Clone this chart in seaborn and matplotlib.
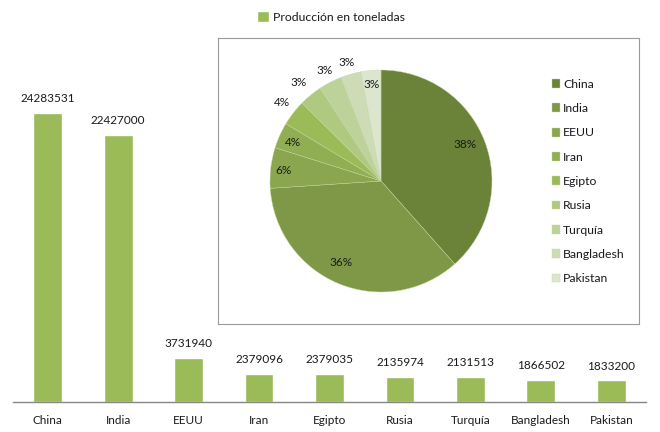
import matplotlib
matplotlib.use('Agg')
import matplotlib.pyplot as plt
import pandas as pd
import seaborn as sns

paises = ['China', 'India', 'EEUU', 'Iran', 'Egipto', 'Rusia', 'Turquía', 'Bangladesh', 'Pakistan']
toneladas = [24283531, 22427000, 3731940, 2379096, 2379035, 2135974, 2131513, 1866502, 1833200]
colores_pie = ['#6B8239', '#7E9848', '#8AA64F', '#90AE52', '#9BBB59',
               '#AFC981', '#BDD29B', '#CDDCB6', '#DCE6CE']
etiqueta_serie = 'Producción en toneladas'

sns.set_theme(style='white')
plt.rcParams['font.family'] = ['Lato', 'DejaVu Sans']
plt.rcParams['font.size'] = 8.5
plt.rcParams['text.color'] = '#1a1a1a'

W, H = 660, 432
df = pd.DataFrame({'pais': paises, 'toneladas': toneladas})

fig = plt.figure(figsize=(W / 100, H / 100), dpi=100, facecolor='white')

# barras
ax = fig.add_axes([12.5 / W, 30 / H, 634 / W, 372 / H])
sns.barplot(data=df, x='pais', y='toneladas', color='#9BBB59', saturation=1,
            width=0.41, ax=ax, label=etiqueta_serie)
ax.set_ylim(0, 24283531 * 372 / 289.5)
ax.set_xlim(-0.5, 8.5)
ax.set_xlabel('')
ax.set_ylabel('')
ax.set_yticks([])
ax.tick_params(axis='x', length=0, pad=9, labelsize=8.5, colors='#1a1a1a')
sns.despine(ax=ax, left=True)
ax.spines['bottom'].set_color('#868686')
ax.spines['bottom'].set_linewidth(1)
ax.bar_label(ax.containers[0], fmt='%d', padding=6, fontsize=8.5, color='#1a1a1a')

h, l = ax.get_legend_handles_labels()
ax.legend(h, l, loc='center', bbox_to_anchor=(331 / W, 1 - 17 / H),
          bbox_transform=fig.transFigure, frameon=False, fontsize=8.8,
          handlelength=0.95, handleheight=0.95, handletextpad=0.35)

# recuadro de la torta
marco = fig.add_axes([218 / W, (H - 324) / H, 421 / W, 286 / H], facecolor='white')
marco.set_xticks([])
marco.set_yticks([])
for s in marco.spines.values():
    s.set_color('#9a9a9a')
    s.set_linewidth(0.8)

# torta
ax2 = fig.add_axes([(381 - 111) / W, (H - 181 - 111) / H, 222 / W, 222 / H])
wedges, textos, pct = ax2.pie(toneladas, colors=colores_pie, startangle=90,
                              counterclock=False, radius=1, autopct='%.0f%%',
                              wedgeprops={'edgecolor': '#C5D6A0', 'linewidth': 0.3},
                              textprops={'fontsize': 8.5, 'color': '#1a1a1a'})
ax2.set_xlim(-1, 1)
ax2.set_ylim(-1, 1)

# etiquetas colocadas a mano como en el original (pixeles)
pos_pct = [(465, 145), (341, 262), (284, 171), (293, 143), (282, 103),
           (299, 83), (325, 71), (347, 63), (372, 84)]
for t, (px, py) in zip(pct, pos_pct):
    t.set_position(((px - 381) / 111, (181 - py) / 111))
    t.set_clip_on(False)

marco.legend(wedges, paises, loc='upper left', bbox_to_anchor=(548 / W, 1 - 75 / H),
             bbox_transform=fig.transFigure, frameon=False, fontsize=8.8,
             handlelength=0.65, handleheight=0.75, handletextpad=0.3,
             labelspacing=1.09, borderpad=0.3, borderaxespad=0)

fig.savefig('out.png', dpi=100)
